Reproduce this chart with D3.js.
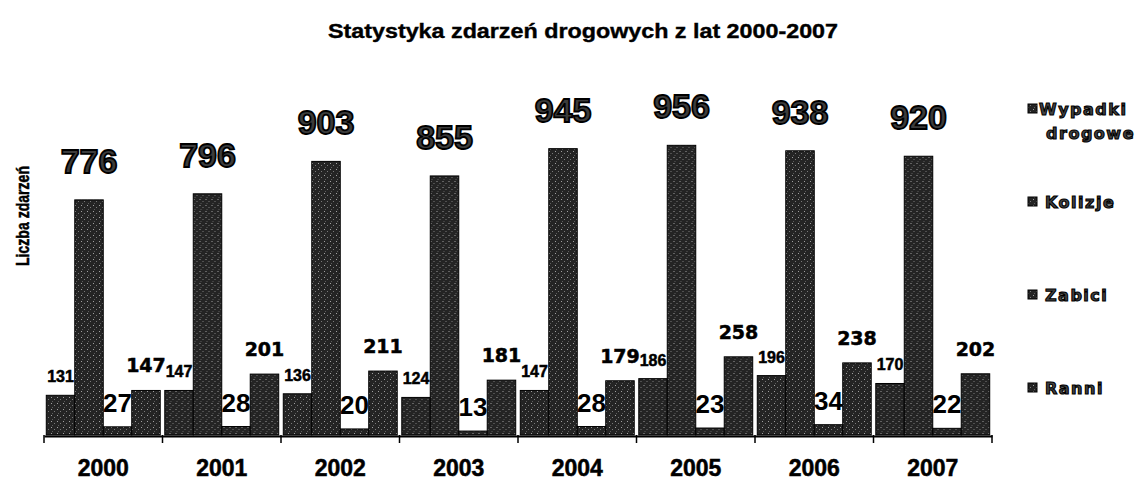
<!DOCTYPE html>
<html>
<head>
<meta charset="utf-8">
<script src="https://cdn.jsdelivr.net/npm/d3@7"></script>
<style>
  body { margin: 0; background: #fff; }
  svg { display: block; }
</style>
</head>
<body>
<svg id="chart" width="1138" height="486"></svg>
<script>
// road accident stats 2000-2007
var years = ['2000', '2001', '2002', '2003', '2004', '2005', '2006', '2007'];
var wypadki = [131, 147, 136, 124, 147, 186, 196, 170];
var kolizje = [776, 796, 903, 855, 945, 956, 938, 920];
var zabici = [27, 28, 20, 13, 28, 23, 34, 22];
var ranni = [147, 201, 211, 181, 179, 258, 238, 202];
var seriesNames = ['Wypadki drogowe', 'Kolizje', 'Zabici', 'Ranni'];

var series = [
  { key: 'w', name: seriesNames[0], values: wypadki },
  { key: 'k', name: seriesNames[1], values: kolizje },
  { key: 'z', name: seriesNames[2], values: zabici },
  { key: 'r', name: seriesNames[3], values: ranni }
];

// label look per series (the scan mixes several fonts)
var labelStyle = {
  w: { font: '"Liberation Sans", Arial, sans-serif', size: 16, gap: 13, fill: '#000', stroke: '#000', sw: 0.5 },
  k: { font: '"Liberation Sans", Arial, sans-serif', size: 34, gap: 27, fill: '#3c3c3c', stroke: '#000', sw: 1.8 },
  z: { font: '"Liberation Sans Narrow", "Liberation Sans", sans-serif', size: 26, gap: 15, fill: '#000', stroke: 'none', sw: 0 },
  r: { font: '"DejaVu Sans", sans-serif', size: 19, gap: 18, fill: '#000', stroke: '#000', sw: 0.5 }
};

var svg = d3.select('#chart');
var defs = svg.append('defs');

// speckled halftone fill like the photocopy
var pat = defs.append('pattern')
    .attr('id', 'speckle')
    .attr('patternUnits', 'userSpaceOnUse')
    .attr('width', 6)
    .attr('height', 6);
pat.append('rect').attr('width', 6).attr('height', 6).attr('fill', '#242424');
pat.append('rect').attr('x', 1).attr('y', 1).attr('width', 1).attr('height', 1).attr('fill', '#a0a0a0');
pat.append('rect').attr('x', 4).attr('y', 3).attr('width', 1).attr('height', 1).attr('fill', '#7a7a7a');
pat.append('rect').attr('x', 2).attr('y', 5).attr('width', 1).attr('height', 1).attr('fill', '#5c5c5c');

var x0 = d3.scaleBand()
    .domain(years)
    .range([44, 992])
    .padding(0);

var x1 = d3.scaleBand()
    .domain(series.map(function(s) { return s.key; }))
    .range([0, x0.bandwidth()])
    .paddingInner(0)
    .paddingOuter(0.08);

var y = d3.scaleLinear()
    .domain([0, 1000])
    .range([435, 132]);

// title
svg.append('text')
    .attr('x', 583)
    .attr('y', 38)
    .attr('text-anchor', 'middle')
    .attr('textLength', 510)
    .attr('lengthAdjust', 'spacingAndGlyphs')
    .style('font-family', '"Liberation Sans", Arial, sans-serif')
    .style('font-weight', 'bold')
    .style('font-size', '21px')
    .attr('stroke', '#000')
    .attr('stroke-width', 0.4)
    .text('Statystyka zdarzeń drogowych z lat 2000-2007');

// y title
svg.append('text')
    .attr('transform', 'translate(29,216) rotate(-90)')
    .attr('text-anchor', 'middle')
    .attr('textLength', 100)
    .attr('lengthAdjust', 'spacingAndGlyphs')
    .style('font-family', '"Liberation Sans", Arial, sans-serif')
    .style('font-weight', 'bold')
    .style('font-size', '18px')
    .attr('stroke', '#000')
    .attr('stroke-width', 0.5)
    .text('Liczba zdarzeń');

// bars
var groups = svg.append('g').selectAll('g')
    .data(years)
    .enter().append('g')
    .attr('transform', function(d) { return 'translate(' + x0(d) + ',0)'; });

groups.selectAll('rect')
    .data(function(d, i) {
        return series.map(function(s) { return { key: s.key, value: s.values[i] }; });
    })
    .enter().append('rect')
    .attr('x', function(d) { return x1(d.key); })
    .attr('y', function(d) { return y(d.value); })
    .attr('width', x1.bandwidth())
    .attr('height', function(d) { return y(0) - y(d.value); })
    .attr('fill', 'url(#speckle)')
    .attr('stroke', '#000')
    .attr('stroke-width', 1);

// value labels
groups.selectAll('text.val')
    .data(function(d, i) {
        return series.map(function(s) { return { key: s.key, value: s.values[i] }; });
    })
    .enter().append('text')
    .attr('class', 'val')
    .attr('x', function(d) { return x1(d.key) + x1.bandwidth() / 2; })
    .attr('y', function(d) { return y(d.value) - labelStyle[d.key].gap; })
    .attr('text-anchor', 'middle')
    .style('font-family', function(d) { return labelStyle[d.key].font; })
    .style('font-weight', 'bold')
    .style('font-size', function(d) { return labelStyle[d.key].size + 'px'; })
    .attr('fill', function(d) { return labelStyle[d.key].fill; })
    .attr('stroke', function(d) { return labelStyle[d.key].stroke; })
    .attr('stroke-width', function(d) { return labelStyle[d.key].sw; })
    .text(function(d) { return d.value; });

// x axis: line, ticks between categories, year labels
var xAxis = d3.axisBottom(x0).tickSize(0).tickPadding(24);
var axisG = svg.append('g')
    .attr('transform', 'translate(0,' + (y(0) + 1) + ')')
    .call(xAxis);
axisG.select('.domain').attr('stroke', '#000').attr('stroke-width', 2);
axisG.selectAll('text')
    .style('font-family', '"Liberation Sans", Arial, sans-serif')
    .style('font-weight', 'bold')
    .style('font-size', '23px')
    .attr('fill', '#000')
    .attr('stroke', '#000')
    .attr('stroke-width', 0.5);

var edges = years.map(function(d) { return x0(d); }).concat([x0(years[years.length - 1]) + x0.step()]);
svg.append('g').selectAll('line')
    .data(edges)
    .enter().append('line')
    .attr('x1', function(d) { return d; })
    .attr('x2', function(d) { return d; })
    .attr('y1', y(0))
    .attr('y2', y(0) + 8)
    .attr('stroke', '#000')
    .attr('stroke-width', 1.5);

// legend
var legendY = [109, 202, 295, 388];
var legend = svg.append('g');
function legendText(x, yy, anchor, str) {
    legend.append('text')
        .attr('x', x)
        .attr('y', yy)
        .attr('text-anchor', anchor)
        .style('font-family', '"DejaVu Sans", sans-serif')
        .style('font-weight', 'bold')
        .style('font-size', '16px')
        .style('letter-spacing', '1.5px')
        .attr('fill', '#444')
        .attr('stroke', '#000')
        .attr('stroke-width', 1.1)
        .text(str);
}
series.forEach(function(s, i) {
    var cy = legendY[i];
    legend.append('rect')
        .attr('x', 1028)
        .attr('y', cy - 5)
        .attr('width', 9)
        .attr('height', 9)
        .attr('fill', 'url(#speckle)')
        .attr('stroke', '#000');
    var parts = s.name.split(' ');
    legendText(i === 0 ? 1039 : 1045, cy + 6, 'start', parts[0]);
    if (parts.length > 1) {
        legendText(1135, cy + 30, 'end', parts[1]);
    }
});
</script>
</body>
</html>
